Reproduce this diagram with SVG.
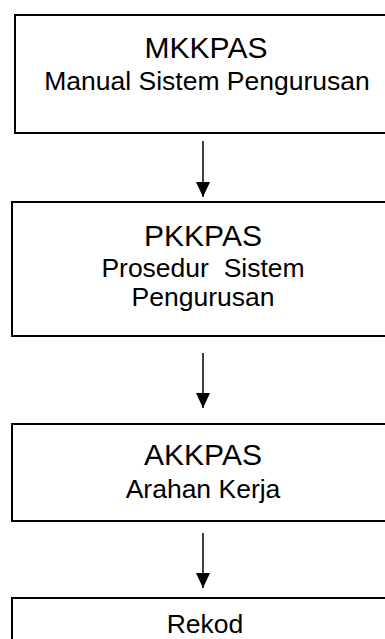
<svg xmlns="http://www.w3.org/2000/svg" width="385" height="639" viewBox="0 0 385 639">
<style>
.box{fill:#fff;stroke:#000;stroke-width:2}
.t{font-family:"Liberation Sans",Arial,sans-serif;font-size:30px;fill:#000;text-anchor:middle}
.b{font-family:"Liberation Sans",Arial,sans-serif;font-size:26.5px;fill:#000;text-anchor:middle}
.c{stroke:#000;stroke-width:1.5;fill:none}
</style>
<defs>
<marker id="ah" markerWidth="15" markerHeight="14" refX="15" refY="7" orient="auto" markerUnits="userSpaceOnUse" viewBox="0 0 15 14">
<path d="M0,0 L15,7 L0,14 Z" fill="#000"/>
</marker>
</defs>
<rect width="385" height="639" fill="#fff"/>
<g id="node-mkkpas">
<rect class="box" x="15" y="15" width="390" height="118"/>
<text class="t" x="206" y="57.5">MKKPAS</text>
<text class="b" x="207" y="89.5">Manual Sistem Pengurusan</text>
</g>
<g id="node-pkkpas">
<rect class="box" x="12" y="202" width="390" height="134"/>
<text class="t" x="203" y="246">PKKPAS</text>
<text class="b" x="203" y="276.5" xml:space="preserve">Prosedur  Sistem</text>
<text class="b" x="203" y="306">Pengurusan</text>
</g>
<g id="node-akkpas">
<rect class="box" x="12" y="424" width="390" height="97"/>
<text class="t" x="203" y="465">AKKPAS</text>
<text class="b" x="203" y="498">Arahan Kerja</text>
</g>
<g id="node-rekod">
<rect class="box" x="12" y="598" width="390" height="60"/>
<text class="b" x="205" y="633">Rekod</text>
</g>
<g id="connectors">
<line class="c" x1="203" y1="141" x2="203" y2="197" marker-end="url(#ah)"/>
<line class="c" x1="203" y1="353" x2="203" y2="408" marker-end="url(#ah)"/>
<line class="c" x1="203" y1="533" x2="203" y2="588" marker-end="url(#ah)"/>
</g>
</svg>
